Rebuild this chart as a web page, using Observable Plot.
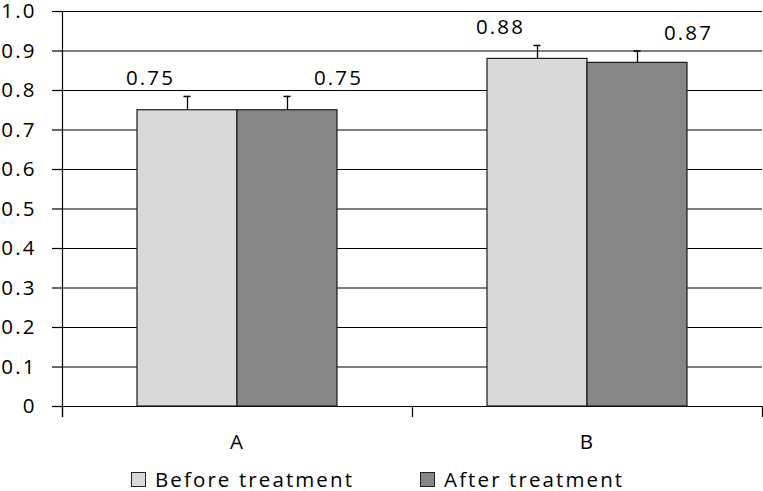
<!DOCTYPE html>
<html>
<head>
<meta charset="utf-8">
<script src="https://cdn.jsdelivr.net/npm/d3@7"></script>
<script src="https://cdn.jsdelivr.net/npm/@observablehq/plot@0.6"></script>
<style>
  html, body { margin: 0; padding: 0; background: #fff; }
  body { width: 763px; height: 491px; overflow: hidden; font-family: "Open Sans", sans-serif; }
  .legend { display: flex; align-items: center; margin-left: 131px; margin-top: 6px; font-size: 20.5px; letter-spacing: 2.1px; color: #000; line-height: 22px; height: 22px; }
  .sw { display: inline-block; width: 13px; height: 13px; border: 1px solid #222; margin-right: 9px; }
  .item { display: flex; align-items: center; }
</style>
</head>
<body>
<div id="chart"></div>
<script>
const categories = ["A", "B"];
const seriesNames = ["Before treatment", "After treatment"];
const beforeValues = [0.75, 0.88];
const afterValues = [0.75, 0.87];
const beforeErrors = [0.035, 0.034];
const afterErrors = [0.035, 0.030];
const valueLabels = [["0.75", "0.75"], ["0.88", "0.87"]];
const yTicks = [0, 0.1, 0.2, 0.3, 0.4, 0.5, 0.6, 0.7, 0.8, 0.9, 1.0];
const colors = ["#d9d9d9", "#878787"];

const rows = [];
categories.forEach((c, i) => {
  rows.push({cat: c, series: seriesNames[0], value: beforeValues[i], err: beforeErrors[i], label: valueLabels[i][0]});
  rows.push({cat: c, series: seriesNames[1], value: afterValues[i], err: afterErrors[i], label: valueLabels[i][1]});
});

const W = 763, H = 462, mt = 11, mb = 56, ml = 61, mr = 1;
const plotH = H - mt - mb;
const FS = 20.5;

const chart = Plot.plot({
  width: W,
  height: H,
  marginTop: mt,
  marginBottom: mb,
  marginLeft: ml,
  marginRight: mr,
  style: {fontFamily: "Open Sans", fontSize: FS + "px", letterSpacing: "2.1px", color: "#000", background: "#fff", overflow: "visible"},
  fx: {domain: categories, padding: 0, axis: null},
  x: {domain: seriesNames, paddingInner: 0, paddingOuter: 0.745, axis: null},
  y: {domain: [0, 1], axis: null},
  color: {domain: seriesNames, range: colors},
  marks: [
    Plot.ruleY(yTicks, {stroke: "#000", strokeWidth: 1.2}),
    Plot.barY(rows, {fx: "cat", x: "series", y: "value", fill: "series", stroke: "#1a1a1a", strokeWidth: 1.2}),
    Plot.ruleX(rows, {fx: "cat", x: "series", y1: "value", y2: d => d.value + d.err, stroke: "#000", strokeWidth: 1.3}),
    Plot.tickY(rows, {fx: "cat", x: "series", y: d => d.value + d.err, insetLeft: 46.5, insetRight: 46.5, stroke: "#000", strokeWidth: 1.5}),
    Plot.text(rows.filter(d => d.series === seriesNames[0]), {fx: "cat", x: "series", y: d => d.value + d.err, text: "label", dy: -18, dx: -37, fill: "#000", fontSize: FS}),
    Plot.text(rows.filter(d => d.series === seriesNames[1]), {fx: "cat", x: "series", y: d => d.value + d.err, text: "label", dy: -18, dx: 51, fill: "#000", fontSize: FS}),
    Plot.axisY(yTicks, {tickSize: 10, tickPadding: 16, tickFormat: d => d === 0 ? "0" : d.toFixed(1), stroke: "#000", strokeWidth: 1.2, fill: "#000", label: null, fontSize: FS}),
    Plot.axisFx({anchor: "bottom", tickSize: 0, tickPadding: 28, label: null, fill: "#000", fontSize: FS}),
    Plot.frame({anchor: "left", facetAnchor: "left", insetBottom: -10, stroke: "#000", strokeWidth: 1.2}),
    Plot.frame({anchor: "left", insetTop: plotH, insetBottom: -10, stroke: "#000", strokeWidth: 1.2}),
    Plot.frame({anchor: "right", facetAnchor: "right", insetTop: plotH, insetBottom: -10, stroke: "#000", strokeWidth: 1.2})
  ]
});
document.getElementById("chart").appendChild(chart);

const legend = document.createElement("div");
legend.className = "legend";
seriesNames.forEach((name, i) => {
  const item = document.createElement("div");
  item.className = "item";
  if (i > 0) item.style.marginLeft = "66px";
  const sw = document.createElement("span");
  sw.className = "sw";
  sw.style.background = colors[i];
  const t = document.createElement("span");
  t.textContent = name;
  item.appendChild(sw);
  item.appendChild(t);
  legend.appendChild(item);
});
document.body.appendChild(legend);
</script>
</body>
</html>
